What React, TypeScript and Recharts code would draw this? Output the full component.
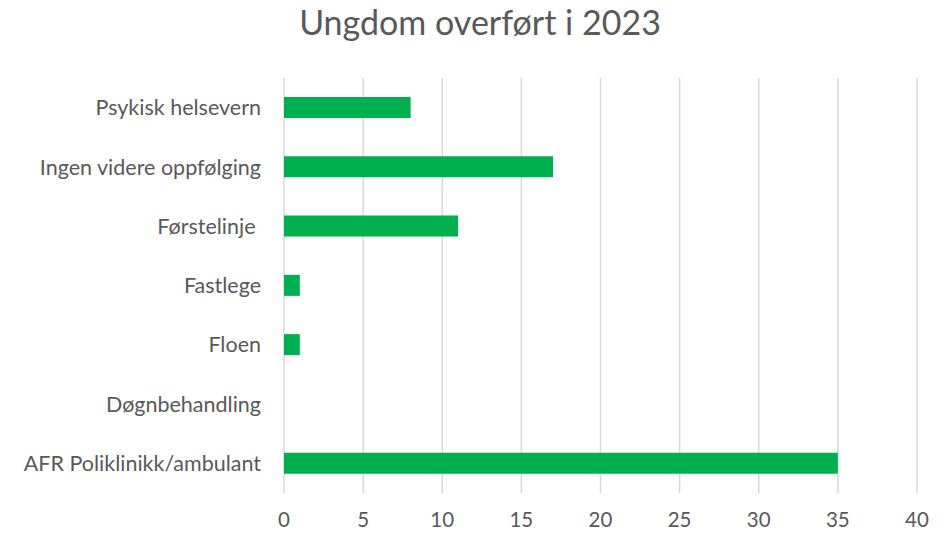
import { BarChart, Bar, XAxis, YAxis, CartesianGrid } from "recharts";

const categories = [
  "Psykisk helsevern",
  "Ingen videre oppfølging",
  "Førstelinje\u00a0",
  "Fastlege",
  "Floen",
  "Døgnbehandling",
  "AFR Poliklinikk/ambulant",
];
const counts = [8, 17, 11, 1, 1, 0, 35];
const xTicks = [0, 5, 10, 15, 20, 25, 30, 35, 40];

const data = categories.map((navn, i) => ({ navn, antall: counts[i] }));

const FONT = "Lato, 'Open Sans', sans-serif";
const BAR_COLOR = "#00B050";
const TEXT_COLOR = "#595959";

export default function App() {
  return (
    <div
      style={{
        position: "absolute",
        top: 0,
        left: 0,
        width: 938,
        height: 538,
        background: "#fff",
        fontFamily: FONT,
      }}
    >
      <div
        style={{
          position: "absolute",
          top: 1,
          left: 22,
          width: 916,
          textAlign: "center",
          fontSize: 34,
          color: TEXT_COLOR,
        }}
      >
        Ungdom overført i 2023
      </div>
      <BarChart
        width={938}
        height={538}
        data={data}
        layout="vertical"
        margin={{ top: 78, right: 21, left: 0, bottom: 0 }}
      >
        <CartesianGrid horizontal={false} stroke="#d9d9d9" strokeWidth={1.5} />
        <XAxis
          type="number"
          domain={[0, 40]}
          ticks={xTicks}
          height={45}
          axisLine={false}
          tickLine={false}
          tickSize={0}
          tickMargin={19}
          tick={{ fontSize: 20.5, fill: TEXT_COLOR, fontFamily: FONT }}
        />
        <YAxis
          type="category"
          dataKey="navn"
          width={284}
          axisLine={false}
          tickLine={false}
          tickSize={0}
          tickMargin={23}
          tick={{ fontSize: 21.5, fill: TEXT_COLOR, fontFamily: FONT }}
        />
        <Bar dataKey="antall" fill={BAR_COLOR} barSize={21} isAnimationActive={false} />
      </BarChart>
    </div>
  );
}
